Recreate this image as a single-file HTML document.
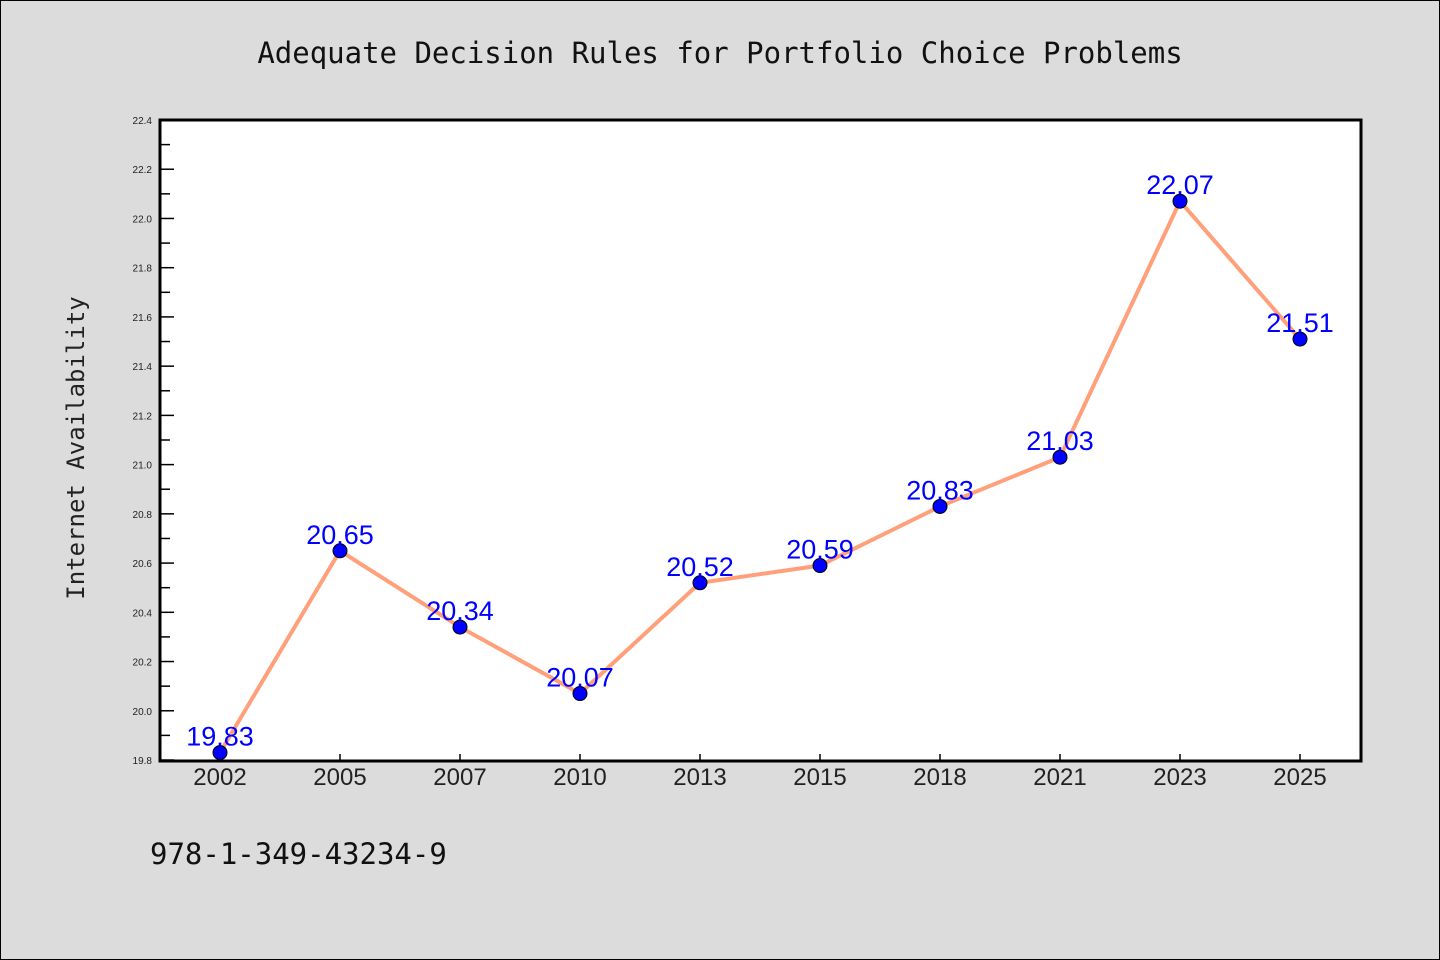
<!DOCTYPE html>
<html><head><meta charset="utf-8"><style>
body{margin:0;background:#dcdcdc;}
svg{display:block}
</style></head><body>
<svg width="1440" height="960" xmlns="http://www.w3.org/2000/svg">
<rect x="0.5" y="0.5" width="1439" height="959" fill="#dcdcdc" stroke="#000"/>
<text x="720" y="63" text-anchor="middle" font-family="'DejaVu Sans Mono','Liberation Mono',monospace" font-size="29" fill="#111">Adequate Decision Rules for Portfolio Choice Problems</text>
<text transform="translate(84,448) rotate(-90)" text-anchor="middle" font-family="'DejaVu Sans Mono','Liberation Mono',monospace" font-size="24" fill="#222">Internet Availability</text>
<text x="150" y="864" font-family="'DejaVu Sans Mono','Liberation Mono',monospace" font-size="29" fill="#111">978-1-349-43234-9</text>
<rect x="160" y="120" width="1201" height="641" fill="#fff" stroke="#000" stroke-width="3"/>
<g id="axes"></g>
<g id="marks"></g>
</svg>
<script>
const categories=["2002","2005","2007","2010","2013","2015","2018","2021","2023","2025"];
const values=[19.83,20.65,20.34,20.07,20.52,20.59,20.83,21.03,22.07,21.51];
const yTicks=[19.8,20.0,20.2,20.4,20.6,20.8,21.0,21.2,21.4,21.6,21.8,22.0,22.2,22.4];
const yMin=19.8,yMax=22.4;
const NS="http://www.w3.org/2000/svg";
function x(i){return 220+i*120;}
function y(v){return 760-(v-yMin)/(yMax-yMin)*640;}
function mk(t,a,p){const e=document.createElementNS(NS,t);for(const k in a)e.setAttribute(k,a[k]);p.appendChild(e);return e;}
const ax=document.getElementById('axes'),mg=document.getElementById('marks');
yTicks.forEach(v=>{
 const t=mk('line',{x1:160,x2:174,y1:y(v),y2:y(v),stroke:'#000','stroke-width':1.5},ax);
 
 
 const l=mk('text',{x:152,y:y(v)+4,'text-anchor':'end','font-family':'Liberation Sans,sans-serif','font-size':10,fill:'#222'},ax);
 l.textContent=v.toFixed(1);
 
 
 if(v<yMax){const m=mk('line',{x1:160,x2:170,y1:y(v+0.1),y2:y(v+0.1),stroke:'#000','stroke-width':1.5},ax);
 
 }
});
categories.forEach((c,i)=>{
 const t=mk('line',{x1:x(i),x2:x(i),y1:760,y2:754,stroke:'#000','stroke-width':1.5},ax);
 
 
 const l=mk('text',{x:x(i),y:785,'text-anchor':'middle','font-family':'Liberation Sans,sans-serif','font-size':24,fill:'#222'},ax);
 l.textContent=c;
 
 
});
const line=mk('polyline',{points:values.map((v,i)=>x(i)+','+y(v)).join(' '),fill:'none',stroke:'#ffa07a','stroke-width':4},mg);


values.forEach((v,i)=>{
 const c=mk('circle',{cx:x(i),cy:y(v),r:7,fill:'#0000ff',stroke:'#000','stroke-width':1},mg);
 
 
});
values.forEach((v,i)=>{
 const l=mk('text',{x:x(i),y:y(v)-7,'text-anchor':'middle','font-family':'Liberation Sans,sans-serif','font-size':27,fill:'#0000ff'},mg);
 l.textContent=v.toFixed(2);
 
 
});
</script>
</body></html>
